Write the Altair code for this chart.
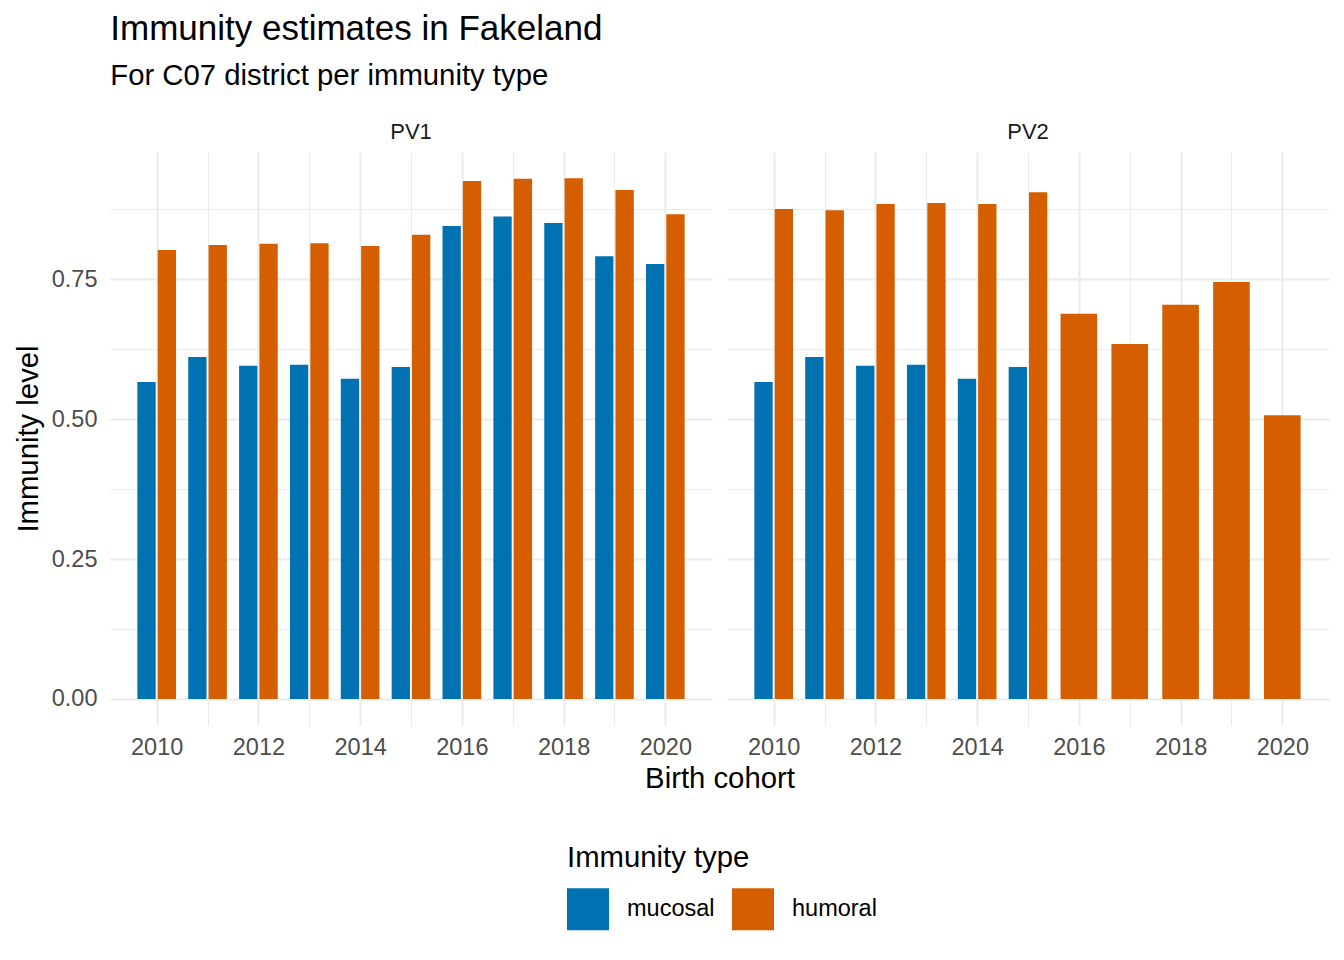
import altair as alt
import pandas as pd

years = list(range(2010, 2021))
pv1_mucosal = [0.566, 0.611, 0.595, 0.597, 0.572, 0.593, 0.845, 0.862, 0.850, 0.791, 0.777]
pv1_humoral = [0.802, 0.811, 0.813, 0.814, 0.809, 0.829, 0.925, 0.929, 0.930, 0.909, 0.866]
pv2_mucosal = [0.566, 0.611, 0.595, 0.597, 0.572, 0.593, None, None, None, None, None]
pv2_humoral = [0.875, 0.873, 0.884, 0.886, 0.884, 0.905, 0.688, 0.634, 0.704, 0.745, 0.507]
types = ["mucosal", "humoral"]
colors = ["#0072B2", "#D55E00"]
serotypes = ["PV1", "PV2"]

rows = []
for sero, muc, hum in zip(serotypes, [pv1_mucosal, pv2_mucosal], [pv1_humoral, pv2_humoral]):
    for yr, m, h in zip(years, muc, hum):
        if m is not None:
            rows.append({"serotype": sero, "year": yr, "type": "mucosal", "value": m})
        if h is not None:
            rows.append({"serotype": sero, "year": yr, "type": "humoral", "value": h})
df = pd.DataFrame(rows)

FONT = "Liberation Sans"
GRID = "#EBEBEB"

bars = alt.Chart(df).transform_joinaggregate(
    n="count(value)", groupby=["serotype", "year"]
).transform_calculate(
    x1="datum.n == 1 ? datum.year - 0.36 : (datum.type == 'mucosal' ? datum.year - 0.38 : datum.year + 0.02)",
    x2="datum.n == 1 ? datum.year + 0.36 : (datum.type == 'mucosal' ? datum.year - 0.02 : datum.year + 0.38)",
).mark_bar().encode(
    x=alt.X("x1:Q",
            scale=alt.Scale(domain=[2009.082, 2020.918], nice=False, zero=False),
            axis=alt.Axis(values=years, format="d", title=None,
                          labelExpr="datum.value % 2 == 0 ? datum.label : ''",
                          grid=True, gridColor=GRID,
                          gridWidth={"condition": {"test": "datum.value % 2 == 0", "value": 2}, "value": 1},
                          domain=False, ticks=False, tickSize=0,
                          labelFontSize=23.5, labelColor="#4D4D4D", labelFont=FONT,
                          labelPadding=10, labelFlush=False, labelOverlap=False)),
    x2="x2:Q",
    y=alt.Y("value:Q",
            scale=alt.Scale(domain=[-0.0465, 0.977], nice=False, zero=False),
            axis=alt.Axis(values=[0, 0.125, 0.25, 0.375, 0.5, 0.625, 0.75, 0.875],
                          format=".2f", title="Immunity level",
                          labelExpr="datum.value * 4 % 1 == 0 ? datum.label : ''",
                          grid=True, gridColor=GRID,
                          gridWidth={"condition": {"test": "datum.value * 4 % 1 == 0", "value": 2}, "value": 1},
                          domain=False, ticks=False, tickSize=0,
                          labelFontSize=23.5, labelColor="#4D4D4D", labelFont=FONT,
                          labelPadding=13, labelFlush=False, labelOverlap=False,
                          titleFontSize=29.3, titleFont=FONT, titleFontWeight="normal",
                          titleColor="black", titlePadding=8)),
    y2=alt.datum(0),
    color=alt.Color("type:N",
                    scale=alt.Scale(domain=types, range=colors),
                    legend=alt.Legend(title="Immunity type", orient="none",
                                      direction="horizontal",
                                      legendX=457, legendY=692,
                                      symbolType="square", symbolSize=1764,
                                      symbolStrokeWidth=0, symbolOpacity=1,
                                      labelFontSize=23.5, labelFont=FONT, labelColor="black",
                                      titleFontSize=29.3, titleFont=FONT, titleFontWeight="normal",
                                      titleColor="black", titleOrient="top", titlePadding=15,
                                      titleLimit=0, labelLimit=0,
                                      labelOffset=18, columnPadding=17)),
).properties(width=602, height=573)

chart = bars.facet(
    column=alt.Column("serotype:N", sort=serotypes, title="Birth cohort",
                      header=alt.Header(labelOrient="top", titleOrient="bottom",
                                        labelFontSize=22, labelFont=FONT, labelColor="#1A1A1A",
                                        labelPadding=8,
                                        titleFontSize=29.3, titleFont=FONT, titleFontWeight="normal",
                                        titleColor="black", titlePadding=-4)),
    spacing=15,
).properties(
    title=alt.TitleParams("Immunity estimates in Fakeland",
                          subtitle="For C07 district per immunity type",
                          anchor="start", font=FONT, subtitleFont=FONT,
                          fontSize=35, subtitleFontSize=29.3, fontWeight="normal",
                          color="black", subtitleColor="black", dx=96,
                          subtitlePadding=15, offset=30),
    padding={"left": 6, "top": 3, "right": 5, "bottom": 5},
).configure(background="white").configure_view(strokeWidth=0, stroke="transparent")

chart.save("out.html", embed_options={"renderer": "svg", "actions": False})
